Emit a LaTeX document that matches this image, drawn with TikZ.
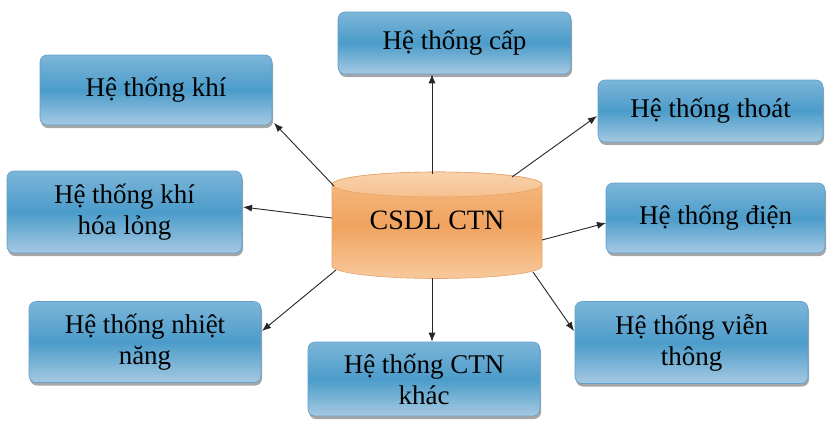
\documentclass[tikz,border=0pt]{standalone}
\usepackage{fontspec}
\setmainfont{Liberation Serif}
\usetikzlibrary{arrows.meta,shadows}
\definecolor{boxtop}{HTML}{7DB5D9}
\definecolor{boxmid}{HTML}{4B9CCA}
\definecolor{boxbot}{HTML}{A6C9E2}
\definecolor{boxedge}{HTML}{5E9FCB}
\definecolor{cyltop}{HTML}{F6BC86}
\definecolor{cylmid}{HTML}{F0A35F}
\definecolor{cylbot}{HTML}{F8C99C}
\definecolor{cylcap}{HTML}{F9D2AC}
\definecolor{cylcapb}{HTML}{F6C08E}
\definecolor{cyledge}{HTML}{E6A46C}
\begin{document}
\begin{tikzpicture}[x=1pt,y=-1pt,
  sysbox/.style={rounded corners=7pt, draw=boxedge, line width=0.6pt,
    top color=boxtop, bottom color=boxbot, middle color=boxmid,
    align=center, font=\fontsize{27}{31}\selectfont, inner sep=0pt,
    drop shadow={shadow xshift=1pt, shadow yshift=-3pt, fill=black, opacity=0.35}},
  conn/.style={draw=black!85, line width=0.9pt, -{Latex[length=9pt,width=7pt]}}]
\useasboundingbox (0,0) rectangle (829,421);

% boxes
\node[sysbox, minimum width=233pt, minimum height=62pt] (cap) at (454.5,43) {Hệ thống cấp};
\node[sysbox, minimum width=232pt, minimum height=70pt] (khi) at (156,90) {Hệ thống khí};
\node[sysbox, minimum width=225pt, minimum height=62pt] (thoat) at (710.5,111) {Hệ thống thoát};
\node[sysbox, minimum width=219pt, minimum height=70pt] (dien) at (715.5,218) {Hệ thống điện};
\node[sysbox, minimum width=235pt, minimum height=82pt] (khl) at (124.5,212) {Hệ thống khí\\hóa lỏng};
\node[sysbox, minimum width=232pt, minimum height=81pt] (nn) at (145,342) {Hệ thống nhiệt\\năng};
\node[sysbox, minimum width=232pt, minimum height=74pt] (ctn) at (424,379) {Hệ thống CTN\\khác};
\node[sysbox, minimum width=233pt, minimum height=82pt] (vt) at (691.5,342.5) {Hệ thống viễn\\thông};

% cylinder
\shade[top color=cyltop, bottom color=cylbot, middle color=cylmid, draw=cyledge, line width=0.6pt]
  (332,184.5) -- (332,266) arc[start angle=180, end angle=360, x radius=105pt, y radius=12.5pt]
  -- (542,184.5) arc[start angle=0, end angle=180, x radius=105pt, y radius=12.5pt] -- cycle;
\shade[top color=cylcap, bottom color=cylcapb, draw=cyledge, line width=0.6pt]
  (437,184.5) ellipse [x radius=105pt, y radius=12.5pt];
\node[minimum width=210pt, minimum height=106pt, inner sep=0pt,
  font=\fontsize{28}{32}\selectfont] (db) at (437,220) {CSDL CTN};

% connector end points
\coordinate (dbUp) at (432,174);
\coordinate (dbDown) at (432,278);
\coordinate (dbKhi) at (334,186);
\coordinate (dbThoat) at (512,177);
\coordinate (dbKhl) at (332,218);
\coordinate (dbDien) at (542,240);
\coordinate (dbNn) at (336,270);
\coordinate (dbVt) at (533,272);
\coordinate (tKhi) at (274,123);
\coordinate (tThoat) at (597,116);
\coordinate (tKhl) at (243,207);
\coordinate (tDien) at (606,223);
\coordinate (tNn) at (262,331);
\coordinate (tVt) at (574,331);

\draw[conn] (dbUp) -- (dbUp |- cap.south);
\draw[conn] (dbDown) -- (dbDown |- ctn.north);
\draw[conn] (dbKhi) -- (tKhi);
\draw[conn] (dbThoat) -- (tThoat);
\draw[conn] (dbKhl) -- (tKhl);
\draw[conn] (dbDien) -- (tDien);
\draw[conn] (dbNn) -- (tNn);
\draw[conn] (dbVt) -- (tVt);
\end{tikzpicture}
\end{document}
